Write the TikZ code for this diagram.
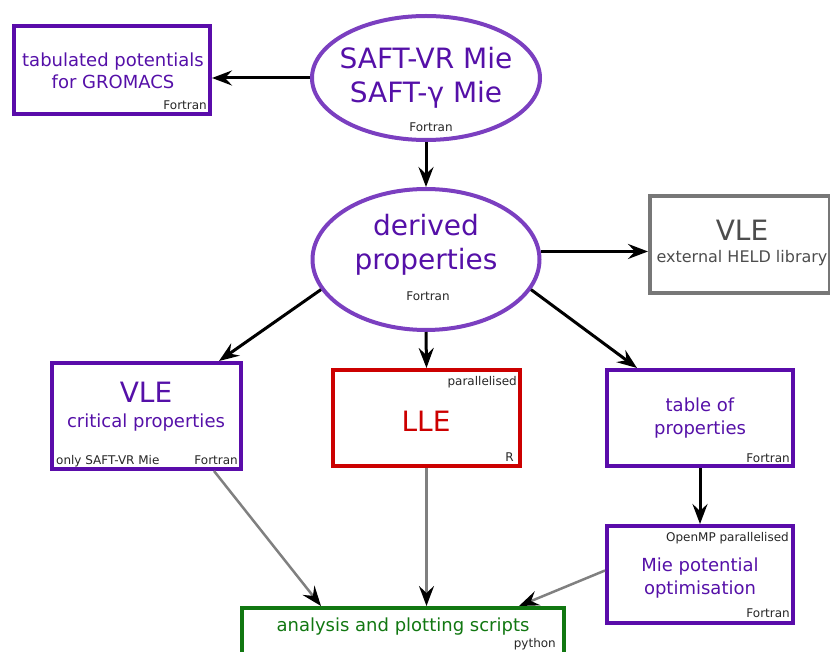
\documentclass[tikz,border=0pt]{standalone}
\usepackage{fontspec}
\setmainfont{DejaVu Sans}
\usetikzlibrary{shapes.geometric, positioning, calc, arrows.meta}

\definecolor{eospurple}{HTML}{7B3FC0}
\definecolor{boxpurple}{HTML}{5A0CAA}
\definecolor{txtpurple}{HTML}{5510A8}
\definecolor{llered}{HTML}{CC0000}
\definecolor{pygreen}{HTML}{117711}
\definecolor{extgray}{HTML}{777777}
\definecolor{exttext}{HTML}{4D4D4D}

\tikzset{
  eos/.style={ellipse, draw=eospurple, line width=4pt, inner sep=0pt},
  box/.style={rectangle, draw=boxpurple, line width=4pt, inner sep=0pt},
  big/.style={font=\fontsize{28}{34}\selectfont, align=center, inner sep=0pt, text=txtpurple},
  mid/.style={font=\fontsize{18}{22.5}\selectfont, align=center, inner sep=0pt, text=txtpurple},
  small/.style={font=\fontsize{12}{14}\selectfont, inner sep=0pt, text=black!85},
  arr/.style={-{Stealth[length=20pt, width=15pt, inset=7pt]}, line width=3pt},
  garr/.style={-{Stealth[length=20pt, width=15pt, inset=7pt, color=black]}, line width=2.5pt, draw=gray},
}

\begin{document}
\begin{tikzpicture}[x=1pt, y=-1pt]

    \clip (0,0) rectangle (830,652);

    % equations of state
    \node[eos, minimum width=228pt, minimum height=124pt] (saft) at (426,78) {};
    \node[big] (saftT) at (426,78) {SAFT-VR Mie\\SAFT-γ Mie};
    \node[small, anchor=base] (saftF) at (431,132) {Fortran};

    % GROMACS tables
    \node[box, minimum width=196pt, minimum height=88pt] (tab) at (112,70) {};
    \node[mid] (tabT) at (113,71) {tabulated potentials\\for GROMACS};
    \node[small, anchor=base east] (tabF) at (207,110) {Fortran};

    % derived properties
    \node[eos, minimum width=227pt, minimum height=141pt] (derived) at (426,259.5) {};
    \node[big] (derivedT) at (426,245) {derived\\properties};
    \node[small, anchor=base] (derivedF) at (428,301) {Fortran};

    % external VLE
    \node[rectangle, draw=extgray, line width=4pt, minimum width=180pt, minimum height=97pt] (ext) at (740,244.5) {};
    \node[big, anchor=base, text=exttext] (extA) at (742,241) {VLE};
    \node[anchor=base, inner sep=0pt, text=exttext, font=\fontsize{16}{19}\selectfont] (extB) at (742,263) {external HELD library};

    % VLE and critical properties
    \node[box, minimum width=189pt, minimum height=106pt] (crit) at (146.5,416) {};
    \node[big, anchor=base] (critA) at (146,402) {VLE};
    \node[mid, anchor=base] (critB) at (146,427) {critical properties};
    \node[small, anchor=base west] (critL) at (56,464) {only SAFT-VR Mie};
    \node[small, anchor=base east] (critF) at (238,464) {Fortran};

    % LLE
    \node[rectangle, draw=llered, line width=4pt, minimum width=187pt, minimum height=96pt] (lle) at (426.5,418) {};
    \node[small, anchor=base east] (lleP) at (517,385) {parallelised};
    \node[big, anchor=base, text=llered] (lleT) at (426,431) {LLE};
    \node[small, anchor=base east] (lleR) at (514,461) {R};

    % table of properties
    \node[box, minimum width=186pt, minimum height=96pt] (table) at (700,418) {};
    \node[mid] (tableT) at (700,418) {table of\\properties};
    \node[small, anchor=base east] (tableF) at (790,462) {Fortran};

    % Mie optimisation
    \node[box, minimum width=186pt, minimum height=97pt] (mie) at (700,574.5) {};
    \node[small, anchor=base east] (mieP) at (789,541) {OpenMP parallelised};
    \node[mid] (mieT) at (700,578) {Mie potential\\optimisation};
    \node[small, anchor=base east] (mieF) at (790,617) {Fortran};

    % analysis
    \node[rectangle, draw=pygreen, line width=4pt, minimum width=322pt, minimum height=76pt] (analysis) at (403,646) {};
    \node[mid, anchor=base, text=pygreen] (analysisT) at (403,631) {analysis and plotting scripts};
    \node[small, anchor=base east] (analysisP) at (556,647) {python};

    % black arrows
    \draw[arr] (saft.west) -- (saft.west -| tab.east);
    \draw[arr] (saft.south) -- (derived.north);
    \draw[arr] (derived.4) -- (derived.4 -| ext.west);
    \draw[arr] (derived.196) -- ($(crit.north east)+(-24,0)$);
    \draw[arr] (derived.south) -- (lle.north);
    \draw[arr] (derived.-16) -- ($(table.north west)+(32,0)$);
    \draw[arr] (table.south) -- (mie.north);

    % grey arrows
    \draw[garr] ($(crit.south east)+(-29,0)$) -- ($(analysis.north west)+(81,0)$);
    \draw[garr] (lle.south) -- (lle.south |- analysis.north);
    \draw[garr] ($(mie.west)+(0,-4)$) -- ($(analysis.north east)+(-47,0)$);

\end{tikzpicture}
\end{document}
